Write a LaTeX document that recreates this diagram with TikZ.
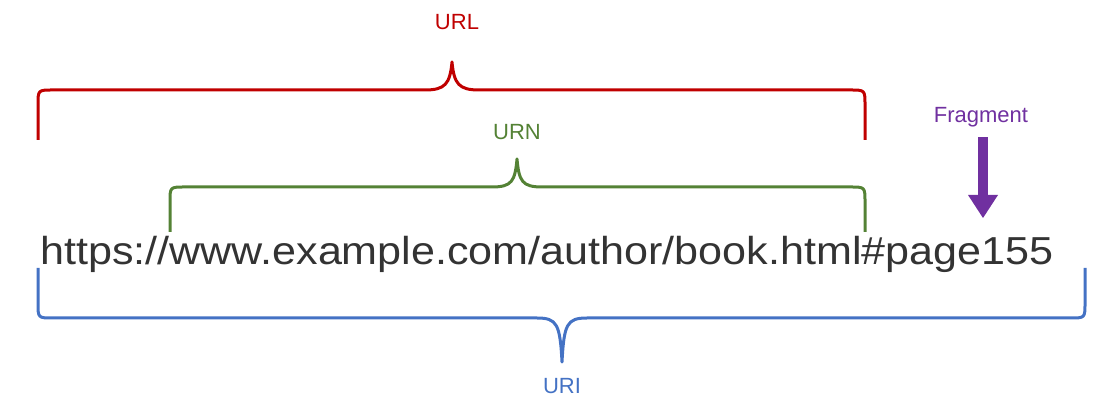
\documentclass[tikz,border=0pt]{standalone}
\usepackage{fontspec}
\setmainfont{Liberation Sans}
\definecolor{cred}{HTML}{C00000}
\definecolor{cgreen}{HTML}{548235}
\definecolor{cblue}{HTML}{4472C4}
\definecolor{cpurp}{HTML}{7030A0}
\definecolor{ctext}{HTML}{333333}
\tikzset{brace/.style={line width=3pt,line join=round},lab/.style={font=\fontsize{22}{26}\selectfont}}
\begin{document}
\begin{tikzpicture}[x=1pt,y=1pt]
\useasboundingbox (0,0) rectangle (1114,409);
% red brace
\draw[brace,cred] (38,269) -- (38,304) .. controls (38,319) .. (53,319) -- (425,319) .. controls (445,319) and (450,325) .. (452,347) .. controls (454,325) and (459,319) .. (479,319) -- (850,319) .. controls (865,319) .. (865,304) -- (865,269);
\node[lab,text=cred] (url) at (457,387) {URL};
% green brace
\draw[brace,cgreen] (170,177) -- (170,207) .. controls (170,222) .. (185,222) -- (492,222) .. controls (512,222) and (515,228) .. (517,250) .. controls (519,228) and (522,222) .. (542,222) -- (850,222) .. controls (865,222) .. (865,207) -- (865,177);
\node[lab,text=cgreen] (urn) at (517,277) {URN};
% blue brace
\draw[brace,cblue] (38,141) -- (38,106) .. controls (38,91) .. (53,91) -- (537,91) .. controls (557,91) and (560,85) .. (562,47) .. controls (564,85) and (567,91) .. (587,91) -- (1070,91) .. controls (1085,91) .. (1085,106) -- (1085,141);
\node[lab,text=cblue] (uri) at (562,23) {URI};
% text
\node[anchor=base west,inner sep=0pt,text=ctext,font=\fontsize{39}{44}\selectfont] (u) at (40,144) {\scalebox{1.105}[1]{https://www.example.com/author/book.html\#page155}};
% fragment
\node[lab,text=cpurp] (frag) at (981,292) {Fragment};
\fill[cpurp] (978,272) rectangle (988,214);
\fill[cpurp] (968,214) -- (983,191) -- (998,214) -- cycle;
\end{tikzpicture}
\end{document}
